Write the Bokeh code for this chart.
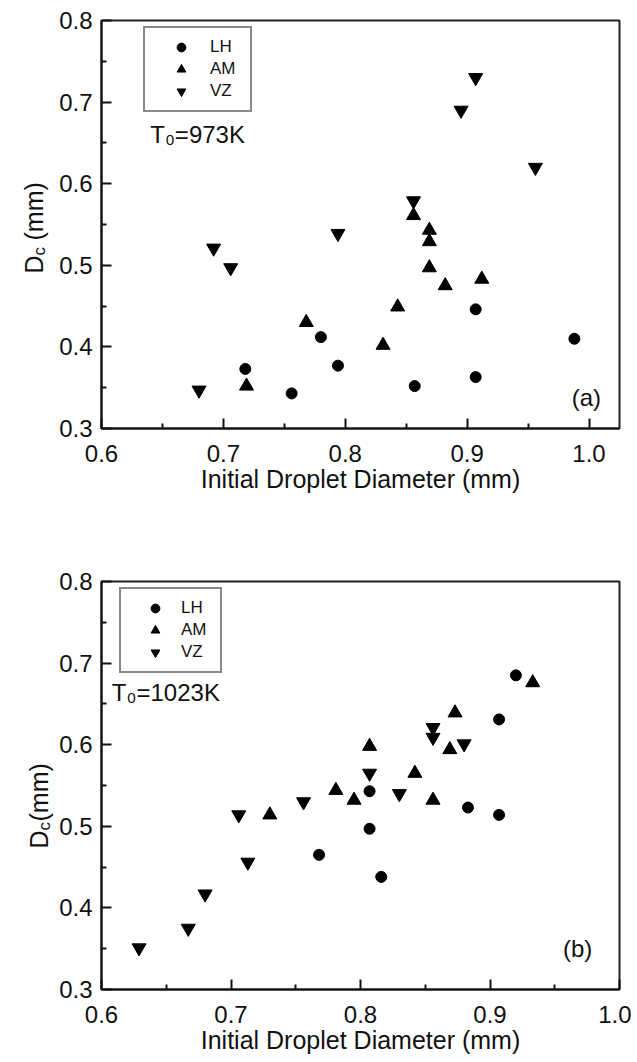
import math
from bokeh.plotting import figure
from bokeh.layouts import column, row
from bokeh.models import Range1d, FixedTicker, Legend, LegendItem, Label, NumeralTickFormatter
from bokeh.embed import file_html
from bokeh.resources import INLINE

# ---------------- data ----------------
series_names = ["LH", "AM", "VZ"]
x_ticks = [0.6, 0.7, 0.8, 0.9, 1.0]
x_minor = [0.65, 0.75, 0.85, 0.95]
y_ticks = [0.3, 0.4, 0.5, 0.6, 0.7, 0.8]
y_minor = [0.35, 0.45, 0.55, 0.65, 0.75]

# panel (a), T0 = 973 K
a_lh_x = [0.718, 0.756, 0.780, 0.794, 0.857, 0.907, 0.907, 0.988]
a_lh_y = [0.373, 0.343, 0.412, 0.377, 0.352, 0.363, 0.446, 0.410]
a_am_x = [0.719, 0.768, 0.831, 0.843, 0.856, 0.869, 0.869, 0.869, 0.882, 0.912]
a_am_y = [0.352, 0.430, 0.402, 0.449, 0.561, 0.543, 0.529, 0.497, 0.475, 0.483]
a_vz_x = [0.680, 0.692, 0.706, 0.794, 0.856, 0.895, 0.907, 0.956]
a_vz_y = [0.347, 0.521, 0.497, 0.539, 0.579, 0.690, 0.730, 0.620]

# panel (b), T0 = 1023 K
b_lh_x = [0.768, 0.807, 0.807, 0.816, 0.883, 0.907, 0.907, 0.920]
b_lh_y = [0.465, 0.543, 0.497, 0.438, 0.523, 0.514, 0.631, 0.685]
b_am_x = [0.730, 0.781, 0.795, 0.807, 0.842, 0.856, 0.869, 0.873, 0.933]
b_am_y = [0.514, 0.544, 0.532, 0.598, 0.565, 0.532, 0.594, 0.639, 0.676]
b_vz_x = [0.629, 0.667, 0.680, 0.706, 0.713, 0.756, 0.807, 0.830, 0.856, 0.856, 0.880]
b_vz_y = [0.351, 0.375, 0.417, 0.514, 0.456, 0.530, 0.565, 0.540, 0.621, 0.609, 0.601]

FONT = "Liberation Sans"
INK = "#111111"
LAB_W = 56  # width of the strip that holds the rotated y-axis title


def make_panel(series, x_end, temp_text, temp_pos, tag_text, tag_pos,
               leg_loc, leg_glyph_w, leg_standoff, leg_label_w,
               b_top, b_bottom):
    p = figure(title=None, frame_width=518, frame_height=408,
               min_border_left=100 - LAB_W, min_border_right=12,
               min_border_top=b_top, min_border_bottom=b_bottom,
               x_range=Range1d(0.6, x_end), y_range=Range1d(0.3, 0.8),
               output_backend="svg", toolbar_location=None, tools="")
    p.grid.visible = False
    p.outline_line_color = "#222222"
    p.outline_line_width = 2
    p.background_fill_color = "white"
    p.border_fill_color = "white"

    for ax, ticks, minor in ((p.xaxis[0], x_ticks, x_minor), (p.yaxis[0], y_ticks, y_minor)):
        ax.ticker = FixedTicker(ticks=ticks, minor_ticks=minor)
        ax.formatter = NumeralTickFormatter(format="0.0")
        ax.axis_line_width = 2
        ax.axis_line_color = INK
        ax.major_tick_in = 10
        ax.major_tick_out = 0
        ax.minor_tick_in = 5
        ax.minor_tick_out = 0
        ax.major_tick_line_width = 2
        ax.minor_tick_line_width = 2
        ax.major_tick_line_color = INK
        ax.minor_tick_line_color = INK
        ax.major_label_text_font = FONT
        ax.major_label_text_font_size = "24px"
        ax.major_label_text_color = INK
    p.xaxis.major_label_standoff = 16
    p.yaxis.major_label_standoff = 9
    p.xaxis.axis_label = "Initial Droplet Diameter (mm)"
    p.xaxis.axis_label_text_font = FONT
    p.xaxis.axis_label_text_font_size = "25px"
    p.xaxis.axis_label_text_font_style = "normal"
    p.xaxis.axis_label_text_color = INK
    p.xaxis.axis_label_standoff = 0

    markers = ["circle", "triangle", "inverted_triangle"]
    sizes = [11, 14, 14]
    items = []
    for name, (xs, ys), mk, sz in zip(series_names, series, markers, sizes):
        r = p.scatter(xs, ys, marker=mk, size=sz, fill_color="black", line_color="black")
        items.append(LegendItem(label=name, renderers=[r]))

    leg = Legend(items=items, location=leg_loc, padding=8, spacing=0,
                 glyph_width=leg_glyph_w, glyph_height=22, label_standoff=leg_standoff,
                 label_width=leg_label_w, label_height=20,
                 label_text_font=FONT, label_text_font_size="17px", label_text_color=INK,
                 border_line_color=INK, border_line_width=2,
                 background_fill_color="white", background_fill_alpha=1.0, margin=0)
    p.add_layout(leg)

    p.add_layout(Label(x=temp_pos[0], y=temp_pos[1], text=temp_text, text_font=FONT,
                       text_font_size="24px", text_color=INK,
                       text_baseline="alphabetic", text_align="left"))
    p.add_layout(Label(x=tag_pos[0], y=tag_pos[1], text=tag_text, text_font=FONT,
                       text_font_size="24px", text_color=INK,
                       text_baseline="alphabetic", text_align="right"))
    return p


def make_ylabel_strip(b_top, b_bottom, parts):
    """Narrow figure, aligned with the panel's frame, that carries the rotated
    title D_c (mm); the pieces are separate runs so that "c" is a subscript."""
    s = figure(title=None, frame_width=LAB_W, frame_height=408,
               min_border_left=0, min_border_right=0,
               min_border_top=b_top, min_border_bottom=b_bottom,
               x_range=Range1d(0, LAB_W), y_range=Range1d(0.3, 0.8),
               x_axis_location=None, y_axis_location=None,
               output_backend="svg", toolbar_location=None, tools="")
    s.grid.visible = False
    s.outline_line_color = None
    s.background_fill_color = "white"
    s.border_fill_color = "white"
    for txt, px, py, fs in parts:
        s.add_layout(Label(x=px, y=py, text=txt, angle=math.pi / 2,
                           text_font=FONT, text_font_size=fs, text_color=INK,
                           text_baseline="alphabetic", text_align="left"))
    return s


H1_TOP, H1_BOT = 20, 95
H2_TOP, H2_BOT = 58, 70

p1 = make_panel(
    [(a_lh_x, a_lh_y), (a_am_x, a_am_y), (a_vz_x, a_vz_y)],
    x_end=1.025,
    temp_text="T\u2080=973K", temp_pos=(0.640, 0.660),
    tag_text="(a)", tag_pos=(1.0098, 0.338),
    leg_loc=(42, 316), leg_glyph_w=56, leg_standoff=1, leg_label_w=32,
    b_top=H1_TOP, b_bottom=H1_BOT,
)
p2 = make_panel(
    [(b_lh_x, b_lh_y), (b_am_x, b_am_y), (b_vz_x, b_vz_y)],
    x_end=1.0,
    temp_text="T\u2080=1023K", temp_pos=(0.608, 0.6635),
    tag_text="(b)", tag_pos=(0.979, 0.350),
    leg_loc=(18, 316), leg_glyph_w=52, leg_standoff=0, leg_label_w=31,
    b_top=H2_TOP, b_bottom=H2_BOT,
)

s1 = make_ylabel_strip(H1_TOP, H1_BOT,
                       [("D", 33, 0.490, "25px"), ("c", 39, 0.512, "17px"), ("(mm)", 33, 0.5304, "25px")])
s2 = make_ylabel_strip(H2_TOP, H2_BOT,
                       [("D", 38, 0.4728, "25px"), ("c", 44, 0.4949, "17px"), ("(mm)", 38, 0.5059, "25px")])

layout = column(row(s1, p1, spacing=0), row(s2, p2, spacing=0), spacing=0)
open("out.html", "w").write(file_html(layout, INLINE))
